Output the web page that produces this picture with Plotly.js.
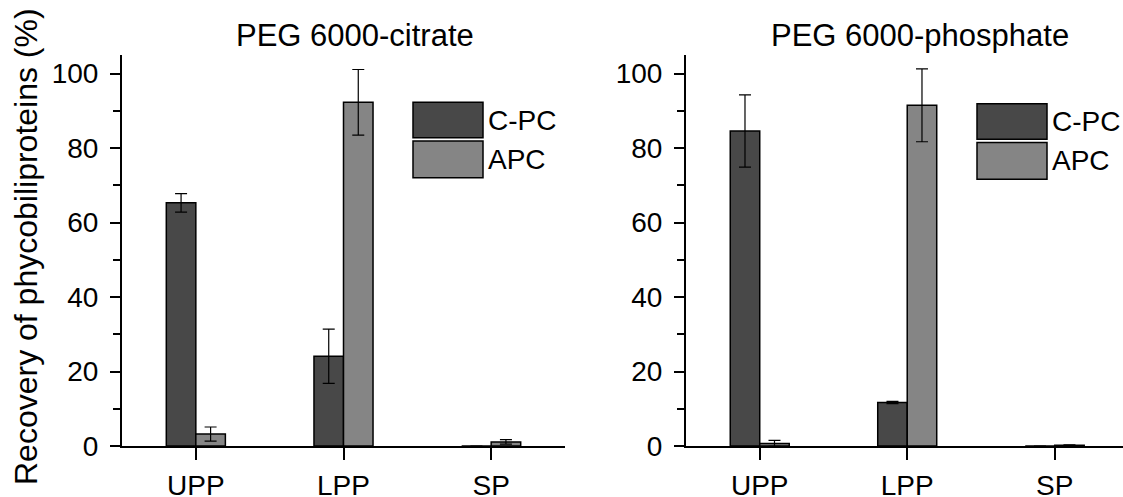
<!DOCTYPE html>
<html>
<head>
<meta charset="utf-8">
<script src="https://cdn.plot.ly/plotly-3.0.1.min.js"></script>
<style>html,body{margin:0;padding:0;background:#fff;}#chart{width:1123px;height:497px;}</style>
</head>
<body>
<div id="chart"></div>
<script>
// ---- data ----
const categories = ['UPP', 'LPP', 'SP'];
const seriesNames = ['C-PC', 'APC'];
const panelTitles = ['PEG 6000-citrate', 'PEG 6000-phosphate'];
const yTitle = 'Recovery of phycobiliproteins (%)';
const citrateCPC = [65.3, 24.1, 0];
const citrateCPCErr = [2.5, 7.3, 0];
const citrateAPC = [3.2, 92.3, 1.1];
const citrateAPCErr = [1.9, 8.8, 0.6];
const phosphateCPC = [84.6, 11.7, 0];
const phosphateCPCErr = [9.7, 0.3, 0];
const phosphateAPC = [0.7, 91.5, 0.2];
const phosphateAPCErr = [0.8, 9.8, 0.1];
const yTicks = [0, 20, 40, 60, 80, 100];

// ---- styles ----
const W = 1123, H = 497;
const FONT = 'Liberation Sans, Arial, sans-serif';
const colors = ['#484848', '#858585'];
const px = v => v / W;
const py = v => (H - v) / H;

function bar(name, y, err, color, xa, ya) {
  return {
    type: 'bar', name: name, x: categories, y: y, xaxis: xa, yaxis: ya,
    marker: {color: color, line: {color: '#000', width: 1.5}},
    error_y: {type: 'data', array: err, visible: true, color: '#000', thickness: 1.2, width: 6},
    showlegend: false, cliponaxis: false
  };
}

const data = [
  bar(seriesNames[0], citrateCPC, citrateCPCErr, colors[0], 'x', 'y'),
  bar(seriesNames[1], citrateAPC, citrateAPCErr, colors[1], 'x', 'y'),
  bar(seriesNames[0], phosphateCPC, phosphateCPCErr, colors[0], 'x2', 'y2'),
  bar(seriesNames[1], phosphateAPC, phosphateAPCErr, colors[1], 'x2', 'y2')
];

function xax(domain, range, anchor) {
  return {
    domain: domain, range: range, anchor: anchor, type: 'category',
    showline: true, linecolor: '#000', linewidth: 2, mirror: false,
    ticks: 'outside', ticklen: 12, tickwidth: 2, tickcolor: '#000',
    tickfont: {family: FONT, size: 28, color: '#000'}, ticklabelstandoff: 1,
    showgrid: false, zeroline: false, fixedrange: true
  };
}
function yax(domain, anchor) {
  return {
    domain: domain, range: [0, 105], anchor: anchor,
    tickvals: yTicks, ticktext: yTicks.map(String),
    showline: true, linecolor: '#000', linewidth: 2,
    ticks: 'outside', ticklen: 10, tickwidth: 2, tickcolor: '#000',
    minor: {ticks: 'outside', ticklen: 7, tickwidth: 2, tickcolor: '#000', dtick: 10, tick0: 0, showgrid: false},
    tickfont: {family: FONT, size: 28, color: '#000'}, ticklabelstandoff: 6,
    showgrid: false, zeroline: false, fixedrange: true
  };
}

const yDom = [py(446), py(55)];
const shapes = [];
const annotations = [];

// axis title
annotations.push({xref: 'paper', yref: 'paper', x: px(26), y: py(247), text: yTitle, textangle: -90,
  showarrow: false, xanchor: 'center', yanchor: 'middle', font: {family: FONT, size: 32, color: '#000'}});
// panel titles
[[355, panelTitles[0]], [920, panelTitles[1]]].forEach(([cx, t]) => {
  annotations.push({xref: 'paper', yref: 'paper', x: px(cx), y: py(35), text: t, showarrow: false,
    xanchor: 'center', yanchor: 'middle', font: {family: FONT, size: 31, color: '#000'}});
});
// legends (large swatches)
[[413, 0], [977, 1.5]].forEach(([lx, dy]) => {
  const boxes = [[102.3, 137.7], [141, 177.7]];
  seriesNames.forEach((n, i) => {
    const [t, b] = boxes[i];
    shapes.push({type: 'rect', xref: 'paper', yref: 'paper', x0: px(lx), x1: px(lx + 70),
      y0: py(b + dy), y1: py(t + dy), fillcolor: colors[i], line: {color: '#000', width: 1.5}});
    annotations.push({xref: 'paper', yref: 'paper', x: px(lx + 73), y: py((t + b) / 2 + dy), text: n,
      showarrow: false, xanchor: 'left', yanchor: 'middle', font: {family: FONT, size: 28, color: '#000'}});
  });
});

const layout = {
  width: W, height: H, autosize: false,
  margin: {l: 0, r: 0, t: 0, b: 0},
  paper_bgcolor: '#fff', plot_bgcolor: '#fff',
  barmode: 'group', bargap: 0.6, bargroupgap: 0,
  font: {family: FONT, color: '#000'},
  xaxis: xax([px(122), px(565)], [-0.5, 2.5], 'y'),
  yaxis: yax(yDom, 'x'),
  xaxis2: xax([px(686), 1], [-0.5, 2.463], 'y2'),
  yaxis2: yax(yDom, 'x2'),
  shapes: shapes, annotations: annotations
};

Plotly.newPlot('chart', data, layout, {displayModeBar: false, staticPlot: true});
</script>
</body>
</html>
